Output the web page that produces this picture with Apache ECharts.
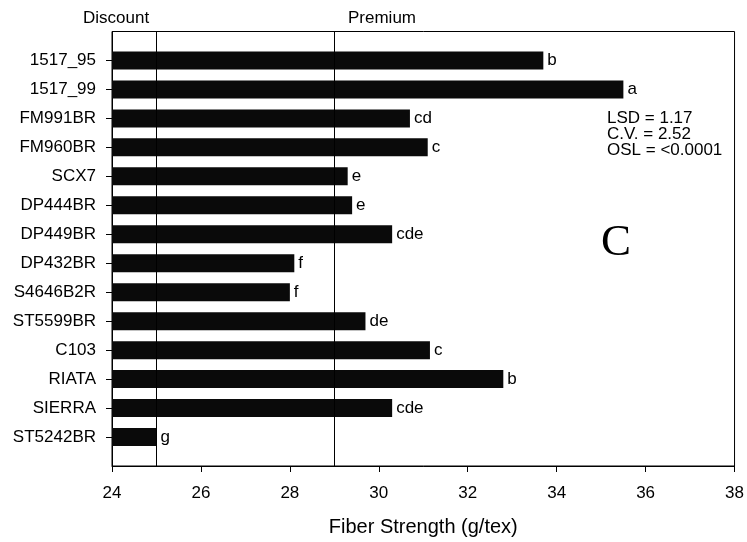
<!DOCTYPE html>
<html>
<head>
<meta charset="utf-8">
<script src="https://cdn.jsdelivr.net/npm/echarts@6/dist/echarts.min.js"></script>
<style>html,body{margin:0;padding:0;background:#fff;}#c{width:747px;height:542px;}</style>
</head>
<body>
<div id="c"></div>
<script>
const categories = ['1517_95','1517_99','FM991BR','FM960BR','SCX7','DP444BR','DP449BR','DP432BR','S4646B2R','ST5599BR','C103','RIATA','SIERRA','ST5242BR'];
const strength = [33.7, 35.5, 30.7, 31.1, 29.3, 29.4, 30.3, 28.1, 28.0, 29.7, 31.15, 32.8, 30.3, 25.0];
const letters = ['b','a','cd','c','e','e','cde','f','f','de','c','b','cde','g'];
const xTicks = [24, 26, 28, 30, 32, 34, 36, 38];
const thresholds = [25, 29];
const statsLines = ['LSD = 1.17', 'C.V. = 2.52', 'OSL = <0.0001'];

const yCats = [''].concat(categories, [' ']);
const barData = [null].concat(strength.map((v, i) => ({ value: v, label: { formatter: letters[i] } })), [null]);

const FONT = 'Liberation Sans, Arial, sans-serif';
const chart = echarts.init(document.getElementById('c'));
chart.setOption({
  animation: false,
  backgroundColor: '#fff',
  grid: { left: 112, right: 10, top: 31.5, bottom: 74, show: true, borderColor: '#000', borderWidth: 1, backgroundColor: 'transparent' },
  xAxis: {
    type: 'value', min: xTicks[0], max: xTicks[xTicks.length - 1], interval: 2,
    name: 'Fiber Strength (g/tex)', nameLocation: 'middle', nameGap: 51,
    nameTextStyle: { fontFamily: FONT, fontSize: 20, color: '#000' },
    axisLine: { show: true, lineStyle: { color: '#000', width: 1 } },
    axisTick: { show: true, length: 6, lineStyle: { color: '#000' } },
    axisLabel: { fontFamily: FONT, fontSize: 17, color: '#000', margin: 19 },
    splitLine: { show: false }
  },
  yAxis: {
    type: 'category', data: yCats, inverse: true, boundaryGap: false,
    axisLine: { show: true, lineStyle: { color: '#000', width: 1 } },
    axisTick: { show: true, length: 6, interval: (i) => i > 0 && i < yCats.length - 1, lineStyle: { color: '#000' } },
    axisLabel: { fontFamily: FONT, fontSize: 17, color: '#000', margin: 16, interval: 0 },
    splitLine: { show: false }
  },
  series: [{
    type: 'bar', data: barData, barWidth: 18,
    itemStyle: { color: '#0a0a0a' },
    label: { show: true, position: 'right', distance: 4, fontFamily: FONT, fontSize: 17, color: '#000' },
    markLine: {
      silent: true, symbol: 'none', animation: false,
      label: { show: false },
      lineStyle: { color: '#000', width: 1, type: 'solid' },
      data: thresholds.map(t => ({ xAxis: t }))
    }
  }],
  graphic: [
    { type: 'text', left: 83, top: 10, style: { text: 'Discount', font: '17px ' + FONT, fill: '#000' } },
    { type: 'text', left: 348, top: 10, style: { text: 'Premium', font: '17px ' + FONT, fill: '#000' } },
    { type: 'text', left: 607, top: 110, style: { text: statsLines.join('\n'), font: '17px ' + FONT, lineHeight: 16, fill: '#000' } },
    { type: 'text', left: 601, top: 221, style: { text: 'C', font: '45px Liberation Serif, Times New Roman, serif', fill: '#000' } }
  ]
});
</script>
</body>
</html>
